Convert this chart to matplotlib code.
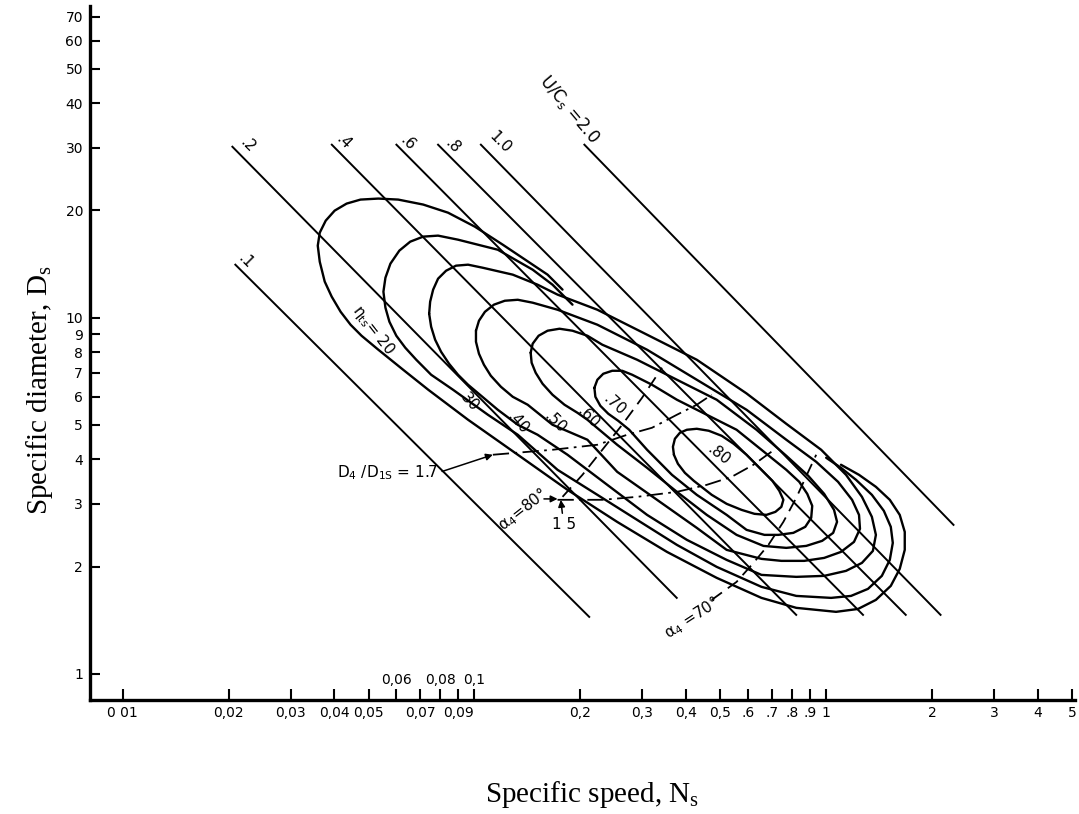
import matplotlib
matplotlib.use('Agg')
import matplotlib.pyplot as plt
from matplotlib.ticker import NullLocator, FixedLocator, FixedFormatter

# U/C_s lines (start / end points, Ns and Ds)
uc_names = ['.1', '.2', '.4', '.6', '.8', '1.0', '2.0']
uc_ns0 = [0.0209, 0.0205, 0.0393, 0.0600, 0.0788, 0.1043, 0.2054]
uc_ds0 = [14.09, 30.2, 30.6, 30.6, 30.6, 30.6, 30.6]
uc_ns1 = [0.212, 0.376, 0.822, 1.273, 1.684, 2.115, 2.302]
uc_ds1 = [1.446, 1.635, 1.465, 1.465, 1.465, 1.465, 2.621]

# efficiency contours eta_ts
eta80_ns = [0.3691, 0.3667, 0.3715, 0.3838, 0.4018, 0.4287, 0.4636, 0.5045, 0.5455, 0.5938, 0.6547, 0.7034,
            0.7360, 0.7557, 0.7459, 0.7173, 0.6764, 0.6255, 0.5747, 0.5213, 0.4727, 0.4205, 0.3966, 0.3789, 0.3691]
eta80_ds = [4.124, 4.342, 4.573, 4.753, 4.847, 4.878, 4.816, 4.662, 4.428, 4.124, 3.741, 3.484,
            3.266, 3.082, 2.945, 2.851, 2.796, 2.815, 2.888, 3.003, 3.183, 3.484, 3.669, 3.890, 4.124]

eta70_ns = [0.2193, 0.2236, 0.2324, 0.2465, 0.2631, 0.2808, 0.3198, 0.3764, 0.4576, 0.5563, 0.6547, 0.7704,
            0.8386, 0.8837, 0.9129, 0.9068, 0.8722, 0.8066, 0.7313, 0.6676, 0.5938, 0.5213, 0.4287, 0.3644,
            0.3096, 0.2754, 0.2563, 0.2402, 0.2280, 0.2207, 0.2193]
eta70_ds = [6.359, 6.697, 6.961, 7.097, 7.097, 6.917, 6.484, 5.885, 5.341, 4.847, 4.259, 3.741,
            3.462, 3.203, 2.964, 2.743, 2.588, 2.489, 2.457, 2.457, 2.538, 2.796, 3.183, 3.622,
            4.259, 4.847, 5.136, 5.375, 5.659, 5.999, 6.359]

eta60_ns = [0.1445, 0.1464, 0.1522, 0.1614, 0.1745, 0.1900, 0.2095, 0.2310, 0.2901, 0.3764, 0.4884, 0.6338,
            0.7704, 0.8894, 0.9870, 1.053, 1.074, 1.047, 0.9743, 0.8778, 0.7704, 0.6633, 0.5563, 0.4576,
            0.3764, 0.3096, 0.2546, 0.2095, 0.1963, 0.1803, 0.1667, 0.1562, 0.1493, 0.1454, 0.1445]
eta60_ds = [7.975, 8.453, 8.900, 9.194, 9.313, 9.194, 8.900, 8.398, 7.621, 6.697, 5.885, 4.847,
            4.096, 3.599, 3.203, 2.888, 2.673, 2.489, 2.364, 2.288, 2.259, 2.288, 2.457, 2.796,
            3.245, 3.790, 4.399, 5.171, 5.409, 5.698, 6.078, 6.525, 7.006, 7.475, 7.975]

eta50_ns = [0.1010, 0.1030, 0.1071, 0.1136, 0.1220, 0.1328, 0.1464, 0.1723, 0.2236, 0.3096, 0.4287, 0.5938,
            0.7704, 0.9369, 1.081, 1.185, 1.240, 1.248, 1.200, 1.102, 0.9870, 0.8665, 0.7459, 0.6547,
            0.5213, 0.4287, 0.3304, 0.2546, 0.2095, 0.1667, 0.1417, 0.1285, 0.1189, 0.1113, 0.1064,
            0.1030, 0.1010, 0.1010]
eta50_ds = [9.194, 9.808, 10.39, 10.88, 11.16, 11.23, 11.02, 10.53, 9.558, 8.131, 6.697, 5.516,
            4.544, 3.940, 3.462, 3.082, 2.796, 2.555, 2.348, 2.201, 2.117, 2.077, 2.077, 2.104,
            2.230, 2.571, 3.082, 3.693, 4.544, 5.006, 5.698, 5.999, 6.400, 6.873, 7.379,
            7.922, 8.561, 9.194]

eta40_ns = [0.07434, 0.07482, 0.0763, 0.0788, 0.08305, 0.08863, 0.0959, 0.1057, 0.1285, 0.1512, 0.1723,
            0.2236, 0.3096, 0.4287, 0.5938, 0.7704, 0.9679, 1.139, 1.264, 1.349, 1.385, 1.358, 1.264,
            1.139, 0.9870, 0.8224, 0.6547, 0.5213, 0.4018, 0.3096, 0.2386, 0.1839, 0.1512, 0.1328,
            0.1165, 0.0959, 0.0898, 0.08468, 0.08036, 0.07730, 0.07531, 0.07434]
eta40_ds = [10.26, 11.09, 11.99, 12.87, 13.55, 14.00, 14.09, 13.81, 13.21, 12.38, 11.61,
            10.53, 8.960, 7.621, 6.130, 5.037, 4.259, 3.622, 3.142, 2.761, 2.457, 2.215, 2.050,
            1.947, 1.885, 1.873, 1.897, 2.090, 2.379, 2.796, 3.395, 4.124, 4.693, 5.006,
            5.516, 6.484, 6.917, 7.426, 8.026, 8.675, 9.435, 10.26]

# .30 and .20 are open at the upper right
eta30_ns = [0.1900, 0.1667, 0.1464, 0.1165, 0.0898, 0.0788, 0.0715, 0.06568, 0.06116, 0.05768, 0.05583,
            0.0551, 0.05583, 0.05730, 0.05996, 0.06358, 0.06832, 0.07531, 0.0869, 0.1092, 0.1328, 0.1723,
            0.2236, 0.2901, 0.3764, 0.4884, 0.6547, 0.8224, 1.033, 1.177, 1.315, 1.440, 1.517, 1.547,
            1.527, 1.459, 1.349, 1.216, 1.102, 1.000]
eta30_ds = [10.88, 12.38, 13.64, 15.52, 16.56, 17.00, 16.89, 16.35, 15.43, 14.18, 12.95,
            11.83, 10.67, 9.745, 8.900, 8.237, 7.621, 6.917, 6.278, 5.341, 4.693, 3.741,
            3.183, 2.707, 2.303, 1.998, 1.756, 1.656, 1.635, 1.656, 1.733, 1.885, 2.090, 2.333,
            2.588, 2.870, 3.183, 3.507, 3.790, 4.045]

eta20_ns = [0.1780, 0.1614, 0.1464, 0.1204, 0.1003, 0.0841, 0.0715, 0.0607, 0.0533, 0.04743, 0.04330,
            0.04004, 0.03777, 0.03632, 0.03585, 0.03632, 0.03752, 0.03927, 0.04164, 0.04444, 0.04775,
            0.0533, 0.0627, 0.0739, 0.0959, 0.1328, 0.1839, 0.2546, 0.3527, 0.4884, 0.6547, 0.8224,
            1.067, 1.232, 1.385, 1.527, 1.619, 1.673, 1.673, 1.619, 1.517, 1.385, 1.240, 1.102]
eta20_ds = [11.99, 13.21, 14.09, 16.03, 18.01, 19.72, 20.78, 21.46, 21.60, 21.46, 20.91,
            19.98, 18.73, 17.33, 15.93, 14.36, 12.63, 11.46, 10.39, 9.557, 8.900,
            8.131, 7.144, 6.278, 5.171, 4.124, 3.287, 2.672, 2.201, 1.861, 1.635, 1.533,
            1.494, 1.522, 1.614, 1.767, 1.972, 2.230, 2.505, 2.796, 3.082, 3.352, 3.622, 3.866]

# D4/D1s dash-dot lines
d17_ns = [0.1128, 0.1667, 0.2236, 0.2718, 0.3198, 0.3764, 0.4287, 0.4727]
d17_ds = [4.124, 4.259, 4.399, 4.693, 4.910, 5.341, 5.698, 6.078]
d15_ns = [0.1723, 0.2310, 0.2901, 0.3764, 0.4576, 0.5385, 0.6214, 0.6988]
d15_ds = [3.082, 3.082, 3.142, 3.245, 3.395, 3.575, 3.866, 4.204]

# alpha4 dashed lines
a80_ns = [0.1780, 0.2028, 0.2310, 0.2631, 0.2997, 0.3414]
a80_ds = [3.142, 3.622, 4.259, 5.006, 5.962, 7.238]
a70_ns = [0.4727, 0.5563, 0.6214, 0.6853, 0.7557, 0.8224, 0.8893, 0.9369]
a70_ds = [1.614, 1.813, 2.050, 2.303, 2.672, 3.122, 3.693, 4.124]

ds_ticks = [1, 2, 3, 4, 5, 6, 7, 8, 9, 10, 20, 30, 40, 50, 60, 70]
ns_ticks = [0.01, 0.02, 0.03, 0.04, 0.05, 0.06, 0.07, 0.08, 0.09, 0.1, 0.2, 0.3, 0.4, 0.5,
            0.6, 0.7, 0.8, 0.9, 1, 2, 3, 4, 5]
ns_labels = ['0 01', '0,02', '0,03', '0,04', '0,05', '', '0,07', '', '0,09', '', '0,2', '0,3', '0,4', '0,5',
             '.6', '.7', '.8', '.9', '1', '2', '3', '4', '5']
ns_upper = [0.06, 0.08, 0.1]
ns_upper_labels = ['0,06', '0,08', '0,1']

fig = plt.figure(figsize=(10.79, 8.14), dpi=100)
ax = fig.add_axes([90 / 1079, 114 / 814, 985 / 1079, 694 / 814])
ax.set_xscale('log')
ax.set_yscale('log')
ax.set_xlim(0.00807, 5.1)
ax.set_ylim(0.845, 75)

for s in ['top', 'right']:
    ax.spines[s].set_visible(False)
for s in ['left', 'bottom']:
    ax.spines[s].set_linewidth(2.4)

ax.yaxis.set_major_locator(FixedLocator(ds_ticks))
ax.yaxis.set_major_formatter(FixedFormatter([str(t) for t in ds_ticks]))
ax.yaxis.set_minor_locator(NullLocator())
ax.xaxis.set_major_locator(FixedLocator(ns_ticks))
ax.xaxis.set_major_formatter(FixedFormatter(ns_labels))
ax.xaxis.set_minor_locator(NullLocator())
ax.tick_params(axis='y', direction='in', length=7, width=1.5, labelsize=10, pad=5)
ax.tick_params(axis='x', direction='in', length=8, width=1.5, labelsize=10, pad=4)

for x, lab in zip(ns_upper, ns_upper_labels):
    ax.annotate(lab, xy=(x, 0), xycoords=('data', 'axes fraction'), xytext=(0, 9),
                textcoords='offset points', ha='center', va='bottom', fontsize=10)

# U/C lines
for n0, d0, n1, d1 in zip(uc_ns0, uc_ds0, uc_ns1, uc_ds1):
    ax.plot([n0, n1], [d0, d1], color='black', lw=1.4)

lab_kw = dict(fontsize=11, rotation=-45, ha='center', va='center')
ax.text(0.0224, 14.4, uc_names[0], **lab_kw)
ax.text(0.0226, 30.6, uc_names[1], **lab_kw)
ax.text(0.0425, 31.2, uc_names[2], **lab_kw)
ax.text(0.0648, 31.0, uc_names[3], **lab_kw)
ax.text(0.0869, 30.3, uc_names[4], **lab_kw)
ax.text(0.118, 31.0, uc_names[5], **lab_kw)
ax.text(0.1863, 38.4, 'U/C$_\\mathregular{s}$ =' + uc_names[6], fontsize=12, rotation=-50,
        ha='center', va='center')

# efficiency contours
for ns, ds in [(eta80_ns, eta80_ds), (eta70_ns, eta70_ds), (eta60_ns, eta60_ds), (eta50_ns, eta50_ds),
               (eta40_ns, eta40_ds), (eta30_ns, eta30_ds), (eta20_ns, eta20_ds)]:
    ax.plot(ns, ds, color='black', lw=1.7, solid_joinstyle='round', solid_capstyle='round')

ax.text(0.0516, 9.25, '\u03b7$_\\mathregular{ts}$= 20', fontsize=11, rotation=-52, ha='center', va='center')
ax.text(0.0971, 5.81, '30', fontsize=11, rotation=-48, ha='center', va='center')
ax.text(0.1328, 5.07, '.40', fontsize=11, rotation=-48, ha='center', va='center')
ax.text(0.169, 5.07, '.50', fontsize=11, rotation=-45, ha='center', va='center')
ax.text(0.2109, 5.24, '.60', fontsize=11, rotation=-45, ha='center', va='center')
ax.text(0.2497, 5.70, '.70', fontsize=11, rotation=-42, ha='center', va='center')
ax.text(0.4948, 4.12, '.80', fontsize=11, rotation=-38, ha='center', va='center')

# dash-dot and dashed lines
ax.plot(d17_ns, d17_ds, color='black', lw=1.3, linestyle=(0, (9, 3, 1.5, 3)))
ax.plot(d15_ns, d15_ds, color='black', lw=1.3, linestyle=(0, (9, 3, 1.5, 3)))
ax.plot(a80_ns, a80_ds, color='black', lw=1.3, linestyle=(0, (7, 4)))
ax.plot(a70_ns, a70_ds, color='black', lw=1.3, linestyle=(0, (7, 4)))

arrow = dict(arrowstyle='-|>', color='black', lw=1.1, mutation_scale=10, shrinkA=1, shrinkB=0)
ax.annotate('D$_\\mathregular{4}$ /D$_\\mathregular{1S}$ = 1.7', xy=(0.1128, 4.124), xytext=(0.0788, 3.67),
            ha='right', va='center', fontsize=11, arrowprops=dict(arrow, relpos=(1, 0.5)))
ax.text(0.1372, 2.89, '\u03b1$_\\mathregular{4}$=80\u00b0', fontsize=11, rotation=38, ha='center', va='center')
ax.annotate('', xy=(0.1723, 3.10), xytext=(0.1562, 3.10), arrowprops=arrow)
ax.text(0.180, 2.62, '1 5', fontsize=11, ha='center', va='center')
ax.annotate('', xy=(0.176, 3.08), xytext=(0.178, 2.80), arrowprops=arrow)
ax.text(0.4151, 1.44, '\u03b1$_\\mathregular{4}$ =70\u00b0', fontsize=11, rotation=33, ha='center', va='center')

fig.text(592 / 1079, 1 - 795 / 814, 'Specific speed, N$_\\mathregular{s}$', family='Liberation Serif',
         fontsize=21, ha='center', va='center')
fig.text(40 / 1079, 1 - 390 / 814, 'Specific diameter, D$_\\mathregular{s}$', family='Liberation Serif',
         fontsize=21, rotation=90, ha='center', va='center')

fig.savefig('out.png', dpi=100)
